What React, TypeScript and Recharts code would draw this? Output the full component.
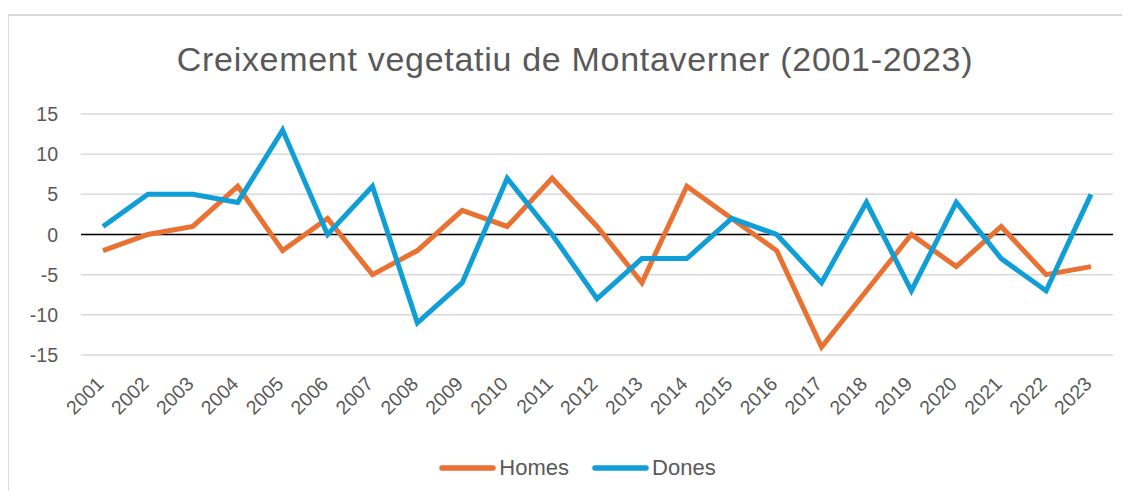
import React from 'react';
import { CartesianGrid, Legend, Line, LineChart, ReferenceLine, XAxis, YAxis } from 'recharts';

const years = [
  '2001', '2002', '2003', '2004', '2005', '2006', '2007', '2008', '2009', '2010', '2011', '2012',
  '2013', '2014', '2015', '2016', '2017', '2018', '2019', '2020', '2021', '2022', '2023',
];
const homes = [-2, 0, 1, 6, -2, 2, -5, -2, 3, 1, 7, 1, -6, 6, 2, -2, -14, -7, 0, -4, 1, -5, -4];
const dones = [1, 5, 5, 4, 13, 0, 6, -11, -6, 7, 0, -8, -3, -3, 2, 0, -6, 4, -7, 4, -3, -7, 5];
const yTicks = [-15, -10, -5, 0, 5, 10, 15];
const seriesNames = ['Homes', 'Dones'];

const ORANGE = '#E97132';
const BLUE = '#0F9ED5';
const TEXT = '#595959';
const FONT = '"Liberation Sans", Arial, sans-serif';
const colors: Record<string, string> = { Homes: ORANGE, Dones: BLUE };

const data = years.map((year, i) => ({ year, Homes: homes[i], Dones: dones[i] }));

const XTick = ({ x, y, payload }: any) => (
  <g transform={`translate(${x + 2},${y + 22})`}>
    <text textAnchor="end" transform="rotate(-45)" fill={TEXT} fontSize={19.5} fontFamily={FONT}>
      {payload.value}
    </text>
  </g>
);

const YTick = ({ y, payload }: any) => (
  <text x={58} y={y} dy={7} textAnchor="end" fill={TEXT} fontSize={19.5} fontFamily={FONT}>
    {payload.value}
  </text>
);

// keep the Excel order (Homes, Dones) instead of the sorted payload
const LegendContent = () => (
  <div style={{ display: 'flex', justifyContent: 'center', alignItems: 'center', height: 30, paddingLeft: 42 }}>
    {seriesNames.map((name, i) => (
      <div key={name} style={{ display: 'flex', alignItems: 'center', marginLeft: i > 0 ? 23 : 0 }}>
        <svg width={57} height={10} style={{ display: 'block' }}>
          <line x1={3} y1={5} x2={54} y2={5} stroke={colors[name]} strokeWidth={5.5} strokeLinecap="round" />
        </svg>
        <span style={{ color: TEXT, fontSize: 22, fontFamily: FONT, marginLeft: 3, lineHeight: '30px' }}>{name}</span>
      </div>
    ))}
  </div>
);

export default function App() {
  return (
    <div style={{ position: 'relative', width: 1130, height: 499, margin: -8, overflow: 'hidden', background: '#fff' }}>
      <div
        style={{
          position: 'absolute', left: 7, top: 14, width: 1200, height: 600,
          border: '2px solid #d9d9d9', boxSizing: 'border-box',
        }}
      />
      <div
        style={{
          position: 'absolute', left: 0, top: 42, width: 1150, textAlign: 'center',
          fontFamily: FONT, fontSize: 34, lineHeight: '34px', letterSpacing: 0.7, color: TEXT,
        }}
      >
        Creixement vegetatiu de Montaverner (2001-2023)
      </div>
      <div style={{ position: 'absolute', left: 0, top: 0 }}>
        <LineChart width={1130} height={499} data={data} margin={{ top: 114, right: 17, left: 0, bottom: 16 }}>
          <CartesianGrid vertical={false} stroke="#d9d9d9" strokeWidth={1.5} />
          <XAxis
            dataKey="year"
            interval={0}
            axisLine={false}
            tickLine={false}
            height={98}
            padding={{ left: 22, right: 22 }}
            tick={<XTick />}
          />
          <YAxis
            domain={[-15, 15]}
            ticks={yTicks}
            width={81}
            axisLine={false}
            tickLine={false}
            tick={<YTick />}
          />
          <ReferenceLine y={0} stroke="#000" strokeWidth={1.5} />
          <Legend verticalAlign="bottom" height={30} content={<LegendContent />} />
          <Line dataKey="Homes" stroke={ORANGE} strokeWidth={5} dot={false} isAnimationActive={false} strokeLinejoin="miter" />
          <Line dataKey="Dones" stroke={BLUE} strokeWidth={5} dot={false} isAnimationActive={false} strokeLinejoin="miter" />
        </LineChart>
      </div>
    </div>
  );
}
